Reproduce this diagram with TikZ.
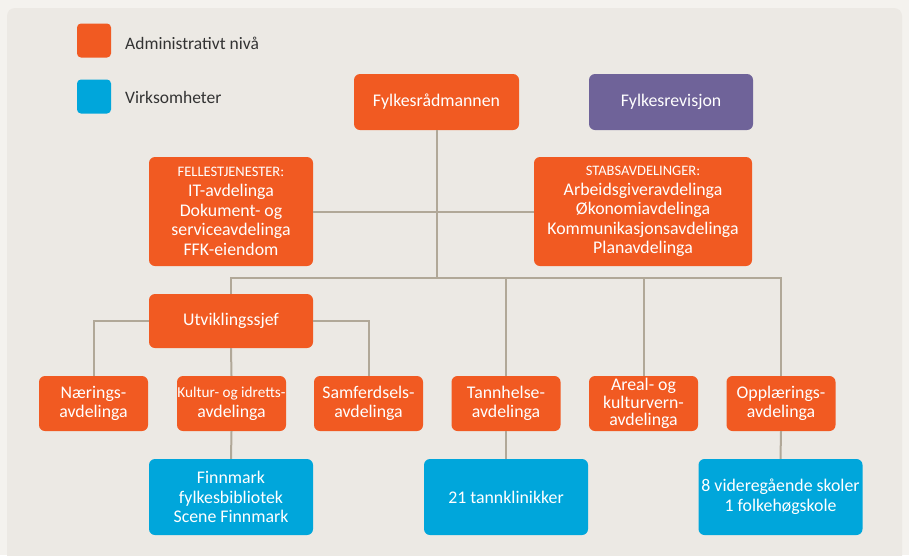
\documentclass[tikz,border=0pt]{standalone}
\usepackage{fontspec}
\setmainfont{Carlito}
\definecolor{outerbg}{HTML}{F4F2EE}
\definecolor{panelbg}{HTML}{ECE9E4}
\definecolor{orng}{HTML}{F15A22}
\definecolor{blu}{HTML}{00A6DB}
\definecolor{purp}{HTML}{6F6399}
\definecolor{connc}{HTML}{B1A898}
\definecolor{legtext}{HTML}{333333}
\newcommand\myhdrfont{\fontsize{14.5}{15}\selectfont}
\newcommand\mytightfont{\fontsize{15.2}{19.7}\selectfont}
\tikzset{
  box/.style={rounded corners=6pt, fill=orng, text=white, align=center, inner sep=0pt,
    font=\fontsize{17.8}{19.6}\selectfont},
  bluebox/.style={box, fill=blu},
  purpbox/.style={box, fill=purp},
  rowbox/.style={box, minimum width=109, minimum height=55},
  bigblue/.style={bluebox, minimum width=164, minimum height=76},
  conn/.style={draw=connc, line width=2pt},
  legsq/.style={rounded corners=4pt, minimum width=34, minimum height=34, inner sep=0pt},
  legtxt/.style={anchor=west, text=legtext, inner sep=0pt, font=\fontsize{17.5}{18}\selectfont}
}
\begin{document}
\begin{tikzpicture}[x=1pt,y=-1pt]
\useasboundingbox (0,0) rectangle (909,555);
\clip (0,0) rectangle (909,555);
\fill[outerbg] (0,0) rectangle (909,555);
\fill[panelbg, rounded corners=8pt] (7,8) rectangle (902,570);

% legend
\node[legsq, fill=orng] (lega) at (94,40.5) {};
\node[legtxt] (legat) at (125,43) {Administrativt nivå};
\node[legsq, fill=blu] (legb) at (94,96.5) {};
\node[legtxt] (legbt) at (125,97) {Virksomheter};

% top level
\node[box, minimum width=165, minimum height=56] (fr) at (436.5,102) {Fylkesrådmannen};
\node[purpbox, minimum width=164, minimum height=56] (rev) at (671,102) {Fylkesrevisjon};

\node[box, minimum width=164, minimum height=109] (fell) at (231,211.5)
  {{\myhdrfont FELLESTJENESTER:}\\IT-avdelinga\\Dokument- og\\serviceavdelinga\\FFK-eiendom};
\node[box, minimum width=218, minimum height=109] (stab) at (643,211.5)
  {{\myhdrfont STABSAVDELINGER:}\\Arbeidsgiveravdelinga\\Økonomiavdelinga\\Kommunikasjonsavdelinga\\Planavdelinga};

\node[box, minimum width=164, minimum height=54] (utv) at (231,321) {Utviklingssjef};

% department row
\node[rowbox] (naer) at (93.5,403.5) {Nærings-\\avdelinga};
\node[rowbox] (kult) at (231.5,403.5) {{\mytightfont Kultur- og idretts-}\\avdelinga};
\node[rowbox] (samf) at (368.5,403.5) {Samferdsels-\\avdelinga};
\node[rowbox] (tann) at (506,403.5) {Tannhelse-\\avdelinga};
\node[rowbox, font=\fontsize{17.8}{17.5}\selectfont] (areal) at (643.5,403.5) {Areal- og\\kulturvern-\\avdelinga};
\node[rowbox] (opp) at (781,403.5) {Opplærings-\\avdelinga};

% enterprises
\node[bigblue] (finn) at (231,497) {Finnmark\\fylkesbibliotek\\Scene Finnmark};
\node[bigblue] (klin) at (506,497) {21 tannklinikker};
\node[bigblue] (skol) at (780.5,497) {8 videregående skoler\\1 folkehøgskole};

% connectors
\coordinate (bus) at (436,278);
\draw[conn] (fr.south) -- (fr.south |- bus);
\draw[conn] (fell.east) -- (stab.west);
\draw[conn] (utv.north) -- (utv.north |- bus) -| (opp.north);
\draw[conn] (tann.north) -- (tann.north |- bus);
\draw[conn] (areal.north) -- (areal.north |- bus);
\draw[conn] (utv.west) -| (naer.north);
\draw[conn] (utv.east) -| (samf.north);
\draw[conn] (utv.south) -- (kult.north);
\draw[conn] (kult.south) -- (finn.north);
\draw[conn] (tann.south) -- (klin.north);
\draw[conn] (opp.south) -- (skol.north);
\end{tikzpicture}
\end{document}
